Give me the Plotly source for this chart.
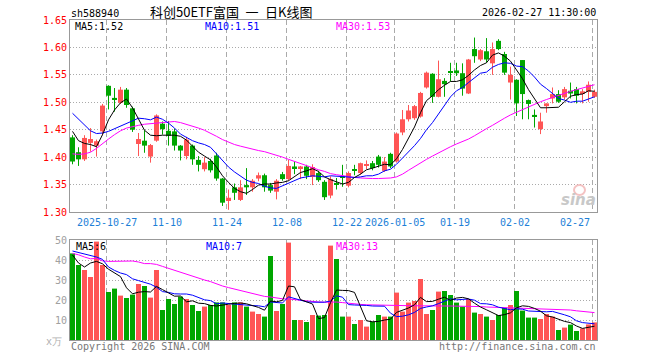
import plotly.graph_objects as go

# ---------------- data ----------------
dates = ["10-17",
         "10-20", "10-21", "10-22", "10-23", "10-24",
         "10-27", "10-28", "10-29", "10-30", "10-31",
         "11-03", "11-04", "11-05", "11-06", "11-07",
         "11-10", "11-11", "11-12", "11-13", "11-14",
         "11-17", "11-18", "11-19", "11-20", "11-21",
         "11-24", "11-25", "11-26", "11-27", "11-28",
         "12-01", "12-02", "12-03", "12-04", "12-05",
         "12-08", "12-09", "12-10", "12-11", "12-12",
         "12-15", "12-16", "12-17", "12-18", "12-19",
         "12-22", "12-23", "12-24", "12-25", "12-26",
         "12-29", "12-30", "12-31",
         "01-05", "01-06", "01-07", "01-08", "01-09",
         "01-12", "01-13", "01-14", "01-15", "01-16",
         "01-19", "01-20", "01-21", "01-22", "01-23",
         "01-26", "01-27", "01-28", "01-29", "01-30",
         "02-02", "02-03", "02-04", "02-05", "02-06",
         "02-09", "02-10", "02-11", "02-12", "02-13",
         "02-24", "02-25", "02-26", "02-27"]

opens = [1.436, 1.409, 1.396, 1.426, 1.421, 1.447, 1.530, 1.508, 1.499, 1.523,
         1.489, 1.424, 1.430, 1.401, 1.430, 1.461, 1.448, 1.447, 1.421, 1.402,
         1.421, 1.395, 1.378, 1.393, 1.403, 1.361, 1.320, 1.345, 1.322, 1.349,
         1.345, 1.361, 1.367, 1.349, 1.337, 1.369, 1.360, 1.383, 1.380, 1.383,
         1.364, 1.371, 1.355, 1.330, 1.353, 1.365, 1.348, 1.378, 1.371, 1.384,
         1.389, 1.401, 1.375, 1.406, 1.392, 1.445, 1.469, 1.471, 1.474, 1.527,
         1.552, 1.510, 1.539, 1.556, 1.558, 1.553, 1.516, 1.597, 1.578, 1.593,
         1.571, 1.612, 1.588, 1.536, 1.541, 1.577, 1.504, 1.477, 1.451, 1.493,
         1.507, 1.515, 1.509, 1.521, 1.524, 1.515, 1.519, 1.510]
highs = [1.440, 1.418, 1.440, 1.453, 1.432, 1.497, 1.531, 1.526, 1.528, 1.526,
         1.492, 1.444, 1.449, 1.424, 1.478, 1.465, 1.466, 1.452, 1.422, 1.437,
         1.423, 1.402, 1.400, 1.397, 1.408, 1.362, 1.341, 1.352, 1.358, 1.380,
         1.360, 1.372, 1.370, 1.353, 1.360, 1.373, 1.395, 1.392, 1.384, 1.386,
         1.387, 1.375, 1.358, 1.365, 1.362, 1.386, 1.374, 1.386, 1.390, 1.394,
         1.393, 1.404, 1.400, 1.408, 1.445, 1.486, 1.495, 1.495, 1.519, 1.556,
         1.553, 1.576, 1.544, 1.572, 1.572, 1.571, 1.579, 1.618, 1.597, 1.617,
         1.609, 1.615, 1.592, 1.565, 1.542, 1.577, 1.505, 1.487, 1.481, 1.498,
         1.527, 1.522, 1.528, 1.536, 1.528, 1.524, 1.538, 1.523]
lows = [1.387, 1.384, 1.393, 1.410, 1.401, 1.440, 1.487, 1.483, 1.497, 1.490,
        1.446, 1.402, 1.408, 1.390, 1.428, 1.441, 1.421, 1.412, 1.394, 1.396,
        1.386, 1.374, 1.374, 1.372, 1.357, 1.311, 1.304, 1.322, 1.320, 1.331,
        1.337, 1.356, 1.337, 1.335, 1.323, 1.357, 1.357, 1.369, 1.360, 1.360,
        1.349, 1.355, 1.322, 1.325, 1.341, 1.346, 1.345, 1.367, 1.368, 1.378,
        1.376, 1.381, 1.373, 1.380, 1.390, 1.440, 1.465, 1.468, 1.472, 1.525,
        1.499, 1.509, 1.510, 1.538, 1.548, 1.512, 1.515, 1.572, 1.575, 1.572,
        1.550, 1.595, 1.550, 1.505, 1.475, 1.469, 1.469, 1.454, 1.442, 1.481,
        1.498, 1.499, 1.505, 1.507, 1.498, 1.498, 1.501, 1.508]
closes = [1.392, 1.396, 1.435, 1.433, 1.429, 1.494, 1.512, 1.505, 1.523, 1.495,
          1.450, 1.433, 1.421, 1.422, 1.476, 1.451, 1.439, 1.421, 1.412, 1.432,
          1.396, 1.386, 1.390, 1.376, 1.361, 1.317, 1.326, 1.335, 1.345, 1.345,
          1.357, 1.367, 1.345, 1.339, 1.357, 1.360, 1.384, 1.380, 1.383, 1.366,
          1.382, 1.358, 1.327, 1.360, 1.350, 1.362, 1.371, 1.375, 1.389, 1.387,
          1.380, 1.386, 1.392, 1.383, 1.443, 1.469, 1.485, 1.493, 1.517, 1.554,
          1.510, 1.542, 1.533, 1.554, 1.553, 1.525, 1.578, 1.584, 1.595, 1.578,
          1.597, 1.597, 1.554, 1.550, 1.498, 1.515, 1.497, 1.474, 1.465, 1.498,
          1.515, 1.501, 1.524, 1.516, 1.512, 1.520, 1.532, 1.519]

# volume (x万)
volumes = [43.3, 37.5, 35.0, 31.5, 49.2, 37.5, 24.0, 25.7, 22.2, 21.0,
           22.7, 28.0, 27.0, 21.2, 35.0, 15.0, 20.5, 18.0, 21.7, 20.5,
           17.5, 14.5, 16.7, 17.5, 18.8, 18.8, 17.5, 18.8, 18.8, 16.7,
           14.2, 13.0, 11.7, 42.0, 14.5, 18.0, 48.7, 10.0, 10.0, 9.0,
           12.5, 12.2, 12.5, 47.2, 40.5, 11.7, 11.7, 8.0, 10.0, 6.7,
           9.2, 12.5, 11.7, 11.7, 23.7, 14.2, 18.7, 19.5, 30.5, 13.0,
           15.0, 24.2, 24.5, 22.5, 18.7, 16.7, 20.5, 13.7, 13.0, 11.7,
           10.0, 12.5, 16.2, 17.5, 24.5, 14.7, 11.2, 11.2, 10.5, 13.0,
           11.7, 5.0, 6.2, 7.7, 4.5, 5.8, 7.8, 8.8]

ma5 = [1.447, 1.430, 1.425, 1.423, 1.419, 1.441, 1.468, 1.486, 1.499, 1.506,
       1.490, 1.469, 1.449, 1.440, 1.439, 1.440, 1.440, 1.440, 1.438, 1.431,
       1.420, 1.409, 1.402, 1.395, 1.382, 1.366, 1.354, 1.343, 1.337, 1.334,
       1.341, 1.349, 1.351, 1.351, 1.353, 1.354, 1.357, 1.364, 1.372, 1.375,
       1.379, 1.374, 1.364, 1.359, 1.355, 1.351, 1.354, 1.363, 1.369, 1.377,
       1.380, 1.383, 1.387, 1.386, 1.397, 1.414, 1.434, 1.455, 1.481, 1.503,
       1.512, 1.523, 1.531, 1.538, 1.538, 1.541, 1.549, 1.559, 1.567, 1.572,
       1.586, 1.590, 1.584, 1.575, 1.559, 1.543, 1.523, 1.507, 1.490, 1.490,
       1.490, 1.491, 1.501, 1.511, 1.514, 1.515, 1.521, 1.520]
ma10 = [1.480, 1.469, 1.458, 1.448, 1.443, 1.444, 1.447, 1.452, 1.457, 1.461,
        1.467, 1.471, 1.470, 1.468, 1.473, 1.469, 1.462, 1.453, 1.442, 1.436,
        1.430, 1.426, 1.423, 1.418, 1.406, 1.393, 1.382, 1.373, 1.366, 1.358,
        1.354, 1.352, 1.347, 1.344, 1.343, 1.348, 1.353, 1.358, 1.362, 1.364,
        1.366, 1.365, 1.364, 1.366, 1.365, 1.365, 1.364, 1.363, 1.364, 1.366,
        1.366, 1.369, 1.375, 1.378, 1.387, 1.398, 1.409, 1.421, 1.434, 1.450,
        1.463, 1.479, 1.493, 1.510, 1.521, 1.527, 1.536, 1.545, 1.553, 1.555,
        1.564, 1.569, 1.572, 1.571, 1.566, 1.565, 1.557, 1.546, 1.533, 1.525,
        1.516, 1.507, 1.504, 1.500, 1.502, 1.502, 1.506, 1.510]
ma30 = [1.406, 1.405, 1.406, 1.409, 1.416, 1.425, 1.433, 1.441, 1.448, 1.453,
        1.456, 1.458, 1.460, 1.461, 1.463, 1.464, 1.465, 1.465, 1.463, 1.460,
        1.456, 1.453, 1.449, 1.444, 1.438, 1.432, 1.427, 1.423, 1.420, 1.417,
        1.414, 1.412, 1.410, 1.407, 1.404, 1.400, 1.396, 1.392, 1.388, 1.384,
        1.380, 1.377, 1.374, 1.370, 1.368, 1.366, 1.364, 1.363, 1.362, 1.361,
        1.361, 1.361, 1.361, 1.362, 1.364, 1.369, 1.376, 1.383, 1.390, 1.396,
        1.402, 1.408, 1.414, 1.419, 1.424, 1.428, 1.433, 1.439, 1.446, 1.452,
        1.458, 1.465, 1.471, 1.477, 1.482, 1.487, 1.492, 1.496, 1.501, 1.505,
        1.509, 1.513, 1.516, 1.520, 1.523, 1.526, 1.529, 1.532]

vma5 = [42.5, 38.5, 36.5, 38.5, 39.3, 38.1, 35.4, 33.6, 31.7, 26.1,
        23.1, 23.9, 24.2, 24.0, 26.8, 25.2, 23.7, 21.9, 22.0, 19.1,
        19.6, 18.4, 18.2, 17.3, 17.0, 17.3, 17.9, 18.3, 18.5, 18.1,
        17.2, 16.3, 14.9, 19.5, 19.1, 19.8, 27.0, 26.6, 20.2, 19.1,
        18.0, 10.7, 11.2, 18.7, 25.0, 24.8, 24.7, 23.8, 16.4, 9.6,
        9.1, 9.3, 10.0, 10.4, 13.8, 14.8, 16.0, 17.6, 21.3, 19.2,
        19.3, 20.4, 21.4, 19.8, 21.0, 21.3, 20.6, 18.4, 16.5, 15.1,
        13.8, 12.2, 12.7, 13.6, 16.1, 17.1, 16.8, 15.8, 14.4, 12.1,
        11.5, 10.3, 9.3, 8.7, 7.0, 5.8, 6.4, 6.9]
vma10 = [44.5, 43.8, 42.8, 42.3, 41.5, 40.3, 36.5, 34.8, 33.5, 32.7,
         30.6, 29.7, 28.9, 27.9, 26.4, 24.2, 23.8, 23.1, 23.0, 23.0,
         22.4, 21.1, 20.1, 19.7, 18.1, 18.5, 18.2, 18.2, 17.9, 17.6,
         17.2, 17.1, 16.6, 19.0, 18.6, 18.5, 21.6, 20.8, 19.9, 19.1,
         18.9, 18.9, 18.9, 19.5, 22.1, 21.4, 17.7, 17.5, 17.5, 17.3,
         17.0, 17.0, 16.9, 13.4, 11.7, 11.9, 12.6, 13.8, 15.8, 16.5,
         17.1, 18.2, 19.5, 20.6, 20.1, 20.3, 20.5, 19.9, 18.2, 18.1,
         17.6, 16.4, 15.6, 15.1, 15.6, 15.4, 14.5, 14.3, 14.0, 14.1,
         14.3, 13.6, 12.6, 11.6, 9.6, 8.7, 8.3, 8.1]
vma30 = [43.3, 42.6, 41.5, 40.6, 40.8, 39.6, 39.3, 39.4, 39.5, 39.5,
         39.5, 39.0, 38.2, 38.2, 37.8, 36.8, 35.8, 34.8, 33.7, 32.8,
         32.0, 31.0, 30.0, 29.2, 28.0, 27.0, 26.2, 25.5, 24.8, 24.2,
         23.4, 22.6, 21.8, 21.5, 21.0, 20.6, 20.5, 20.2, 19.8, 19.4,
         19.2, 19.0, 18.9, 19.0, 19.0, 18.7, 18.3, 18.1, 17.8, 17.6,
         17.5, 17.4, 17.3, 17.2, 17.2, 17.2, 17.1, 17.1, 17.1, 17.0,
         17.0, 17.0, 17.0, 17.0, 17.0, 17.0, 16.9, 16.8, 16.7, 16.5,
         16.4, 16.3, 16.2, 16.1, 16.0, 15.9, 15.8, 15.8, 15.7, 15.7,
         15.6, 15.5, 15.3, 15.0, 14.6, 14.3, 14.0, 13.7]

tick_keys = ["10-27", "11-10", "11-24", "12-08", "12-22", "01-05", "01-19", "02-02", "02-27"]
tick_labels = ["2025-10-27", "11-10", "11-24", "12-08", "12-22", "2026-01-05", "01-19", "02-02", "02-27"]
price_ticks = [1.30, 1.35, 1.40, 1.45, 1.50, 1.55, 1.60, 1.65]
vol_ticks = [10, 20, 30, 40, 50]

# ---------------- styling ----------------
RED = "#ff5555"
GREEN = "#00a600"
MONO = "DejaVu Sans Mono, Liberation Mono, monospace"
CJK = "Noto Sans CJK SC, sans-serif"
GRID = "#aaaaaa"
BORDER = "#999999"

idx = list(range(len(dates)))
up = [c >= o for o, c in zip(opens, closes)]
colors = [RED if u else GREEN for u in up]
body_base = [min(o, c) for o, c in zip(opens, closes)]
body_h = [max(abs(c - o), 0.0016) for o, c in zip(opens, closes)]
grid_x = [dates.index(k) - 1.0 / 3.0 for k in tick_keys]

fig = go.Figure()

# candle bodies
fig.add_trace(go.Bar(x=idx, y=body_h, base=body_base, width=5.0 / 6.0,
                     marker=dict(color=colors, line=dict(width=0)),
                     xaxis="x", yaxis="y", hoverinfo="skip"))
# wicks
for flag, col in ((True, RED), (False, GREEN)):
    wx, wy = [], []
    for i in idx:
        if up[i] == flag:
            wx += [i, i, None]
            wy += [lows[i], highs[i], None]
    fig.add_trace(go.Scatter(x=wx, y=wy, mode="lines", line=dict(color=col, width=1),
                             xaxis="x", yaxis="y", hoverinfo="skip"))
# price MAs
for arr, col in ((ma30, "#ff00ff"), (ma10, "#0000ff"), (ma5, "#000000")):
    fig.add_trace(go.Scatter(x=idx, y=arr, mode="lines", line=dict(color=col, width=1),
                             xaxis="x", yaxis="y", hoverinfo="skip"))

# volume bars
fig.add_trace(go.Bar(x=idx, y=volumes, width=5.0 / 6.0,
                     marker=dict(color=colors, line=dict(width=0)),
                     xaxis="x2", yaxis="y2", hoverinfo="skip"))
for arr, col in ((vma30, "#ff00ff"), (vma10, "#0000ff"), (vma5, "#000000")):
    fig.add_trace(go.Scatter(x=idx, y=arr, mode="lines", line=dict(color=col, width=1),
                             xaxis="x2", yaxis="y2", hoverinfo="skip"))

xr = [-2.5 / 6.0, -2.5 / 6.0 + 527.0 / 6.0]
common_x = dict(range=xr, tickvals=grid_x, showticklabels=False, ticks="",
                showgrid=True, gridcolor=GRID, griddash="5px,3px", gridwidth=1,
                showline=True, mirror=True, linecolor=BORDER, linewidth=1,
                zeroline=False, fixedrange=True)

fig.update_layout(
    width=660, height=360,
    margin=dict(l=70, r=63, t=20, b=20),
    paper_bgcolor="white", plot_bgcolor="white",
    showlegend=False, barmode="overlay",
    xaxis=dict(domain=[0, 1], anchor="y", **common_x),
    xaxis2=dict(domain=[0, 1], anchor="y2", matches="x", **common_x),
    yaxis=dict(domain=[0.4, 1], anchor="x", range=[1.30, 1.65],
               tickvals=price_ticks, ticktext=["%.2f" % v for v in price_ticks],
               tickfont=dict(family=MONO, size=10, color="#ff0000"), ticks="",
               showgrid=True, gridcolor=GRID, griddash="1px,2px", gridwidth=1,
               showline=True, mirror=True, linecolor=BORDER, linewidth=1,
               zeroline=False, fixedrange=True),
    yaxis2=dict(domain=[0, 0.3125], anchor="x2", range=[0, 50],
                tickvals=vol_ticks, ticktext=[str(v) for v in vol_ticks],
                tickfont=dict(family=MONO, size=10, color="#a0a0a0"), ticks="",
                showgrid=True, gridcolor=GRID, griddash="1px,2px", gridwidth=1,
                showline=True, mirror=True, linecolor=BORDER, linewidth=1,
                zeroline=False, fixedrange=True),
)

def px_y(Y):
    return (340.0 - Y) / 320.0

def px_x(X):
    return (X - 70.0) / 527.0

ann = []
def text(x, y, s, color="#000", size=10, family=MONO, xanchor="left", **kw):
    ann.append(dict(x=x, y=y, xref="paper", yref="paper", text=s, showarrow=False,
                    xanchor=xanchor, yanchor="middle",
                    font=dict(family=family, size=size, color=color), **kw))

text(px_x(69), px_y(13.5), "sh588940")
text(px_x(230.5), px_y(11.5), "科创50ETF富国\u2002一\u2002日K线图", size=13, family=CJK,
     xanchor="center")
text(1.0, px_y(12.5), "2026-02-27 11:30:00", xanchor="right", xshift=1)
text(px_x(73), px_y(26), "MA5:1.52", color="#000000")
text(px_x(203), px_y(26), "MA10:1.51", color="#0000ff")
text(px_x(334), px_y(26), "MA30:1.53", color="#ff00ff")
text(px_x(74), px_y(246.5), "MA5:6", color="#000000")
text(px_x(203.5), px_y(246.5), "MA10:7", color="#0000ff")
text(px_x(334), px_y(246.5), "MA30:13", color="#ff00ff")
text(px_x(69), px_y(346), "Copyright 2026 SINA.COM", color="#777777")
text(1.0, px_y(346), "http://finance.sina.com.cn", color="#777777", xanchor="right", xshift=1)
text(px_x(64), px_y(341), "x万", color="#b0b0b0", xanchor="right")
text(px_x(598), px_y(200), "<b><i>sina</i></b>", color="#c8c8c8", size=15,
     family="DejaVu Sans, sans-serif", xanchor="right")

# x tick labels
for k, lab in zip(tick_keys, tick_labels):
    gx = dates.index(k) - 1.0 / 3.0
    last = (k == tick_keys[-1])
    ann.append(dict(x=gx, y=px_y(222), xref="x", yref="paper", text=lab, showarrow=False,
                    xanchor="right" if last else "center", yanchor="middle",
                    xshift=-1 if last else 0,
                    font=dict(family=MONO, size=10, color="#1e7fd7")))

fig.update_layout(annotations=ann)
# faint sina eye logo above the watermark text
fig.add_shape(type="circle", xref="paper", yref="paper",
              x0=px_x(574), x1=px_x(585), y0=px_y(195), y1=px_y(185),
              line=dict(color="#f2b4b4", width=2), opacity=0.8, layer="above")

fig.write_html("out.html", config={"displayModeBar": False},
               post_script="document.body.style.margin='0px';document.body.style.padding='0px';")
